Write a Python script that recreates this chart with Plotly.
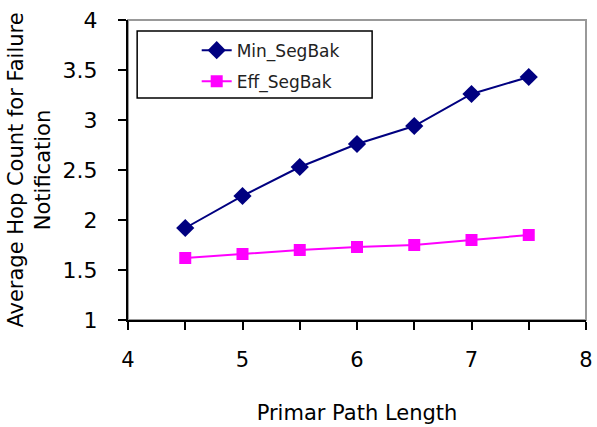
import plotly.graph_objects as go

path_length = [4.5, 5, 5.5, 6, 6.5, 7, 7.5]
min_segbak = [1.92, 2.24, 2.53, 2.76, 2.94, 3.26, 3.43]
eff_segbak = [1.62, 1.66, 1.70, 1.73, 1.75, 1.80, 1.85]

fig = go.Figure()
fig.add_trace(go.Scatter(
    x=path_length, y=min_segbak, name="Min_SegBak", mode="lines+markers",
    legendgroup="a",
    line=dict(color="#000080", width=2),
    marker=dict(symbol="diamond", size=14, color="#000080"),
))
fig.add_trace(go.Scatter(
    x=path_length, y=eff_segbak, name="Eff_SegBak", mode="lines+markers",
    legendgroup="b",
    line=dict(color="#FF00FF", width=2),
    marker=dict(symbol="square", size=12, color="#FF00FF"),
))

font = "DejaVu Sans, Liberation Sans, Arial, sans-serif"
# plot-area frame (light gray top/right)
fig.add_shape(type="rect", xref="paper", yref="paper", x0=0, x1=1, y0=0, y1=1,
              line=dict(color="#999999", width=2), layer="below")
# legend frame
fig.add_shape(type="rect", xref="paper", yref="paper", x0=0.02, x1=0.533, y0=0.74, y1=0.963,
              line=dict(color="black", width=1.5), fillcolor="white", layer="below")

fig.update_layout(
    width=597, height=427,
    margin=dict(l=128, r=11, t=20, b=107, autoexpand=False),
    paper_bgcolor="white", plot_bgcolor="white",
    font=dict(family=font, color="black", size=20),
    showlegend=True,
    legend=dict(
        x=0.15, y=0.958, xanchor="left", yanchor="top",
        bgcolor="rgba(0,0,0,0)", borderwidth=0,
        font=dict(size=17, family=font, color="#222"),
        tracegroupgap=6,
    ),
    xaxis=dict(
        range=[4, 8], dtick=1, tick0=4, automargin=False,
        showline=True, linecolor="black", linewidth=2,
        ticks="outside", ticklen=8, tickcolor="black", tickwidth=2,
        minor=dict(dtick=0.5, ticks="outside", ticklen=8, tickcolor="black", tickwidth=2),
        showgrid=False, zeroline=False,
        tickfont=dict(size=21),
        ticklabelstandoff=12,
        title=dict(text="Primar Path Length", font=dict(size=21), standoff=34),
    ),
    yaxis=dict(
        range=[1, 4], dtick=0.5, tick0=1, automargin=False,
        showline=True, linecolor="black", linewidth=2,
        ticks="outside", ticklen=8, tickcolor="black", tickwidth=2,
        showgrid=False, zeroline=False,
        tickfont=dict(size=22),
        ticklabelstandoff=16,
        title=dict(text="Average Hop Count for Failure<br>Notification", font=dict(size=21), standoff=6),
    ),
)

fig.write_html("out.html")
